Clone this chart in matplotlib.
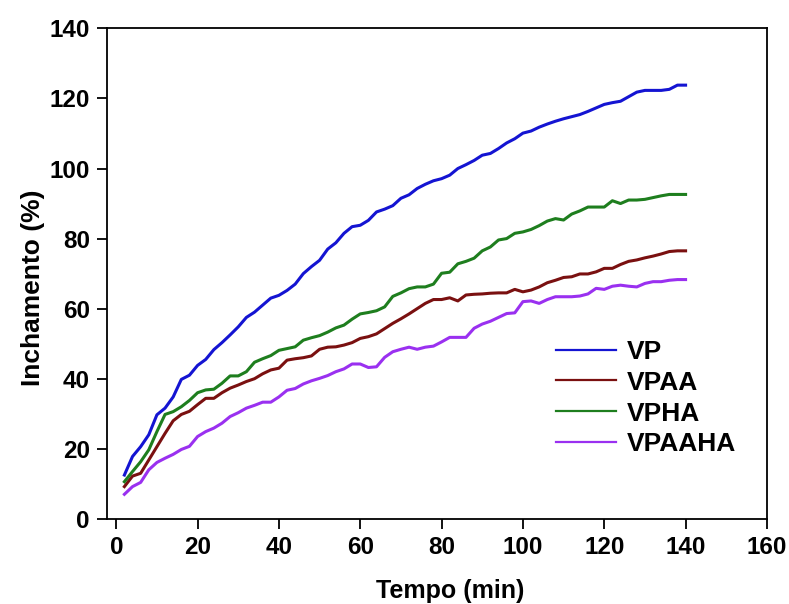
import matplotlib
matplotlib.use('Agg')
import matplotlib.pyplot as plt

# tempo (min)
tempo = list(range(2, 141, 2))

# inchamento (%)
vp = [12.5, 17.8, 20.6, 24.0, 29.7, 31.6, 34.8, 39.8, 41.0, 43.8,
      45.5, 48.3, 50.3, 52.5, 54.8, 57.5, 59.0, 61.0, 63.0, 63.8,
      65.2, 67.0, 70.0, 72.0, 73.8, 77.0, 78.8, 81.5, 83.4, 83.8,
      85.2, 87.6, 88.4, 89.4, 91.5, 92.5, 94.3, 95.5, 96.5, 97.1,
      98.1, 100.0, 101.1, 102.3, 103.8, 104.3, 105.7, 107.3, 108.5, 110.1,
      110.7, 111.8, 112.7, 113.5, 114.2, 114.8, 115.4, 116.3, 117.3, 118.3,
      118.8, 119.2, 120.5, 121.8, 122.3, 122.3, 122.3, 122.6, 123.8, 123.8]

vpaa = [9.2, 12.2, 13.0, 16.8, 20.6, 24.4, 28.0, 29.8, 30.7, 32.6,
        34.4, 34.4, 36.0, 37.3, 38.2, 39.2, 40.0, 41.4, 42.5, 43.0,
        45.3, 45.7, 46.0, 46.5, 48.4, 49.0, 49.1, 49.6, 50.3, 51.5,
        52.0, 52.8, 54.3, 55.8, 57.1, 58.5, 60.0, 61.5, 62.6, 62.6,
        63.1, 62.2, 63.9, 64.1, 64.2, 64.4, 64.5, 64.5, 65.5, 64.8,
        65.3, 66.2, 67.4, 68.1, 68.9, 69.1, 69.9, 69.9, 70.5, 71.5,
        71.5, 72.6, 73.5, 73.9, 74.5, 75.0, 75.6, 76.3, 76.5, 76.5]

vpha = [10.6, 13.5, 16.3, 19.7, 24.9, 29.8, 30.6, 32.0, 33.8, 36.0,
        36.8, 37.0, 38.7, 40.8, 40.8, 42.0, 44.7, 45.7, 46.6, 48.1,
        48.6, 49.1, 51.0, 51.7, 52.3, 53.3, 54.5, 55.3, 57.0, 58.5,
        58.9, 59.4, 60.5, 63.5, 64.5, 65.7, 66.2, 66.2, 67.0, 70.1,
        70.4, 72.8, 73.5, 74.4, 76.5, 77.6, 79.6, 80.0, 81.5, 81.9,
        82.6, 83.7, 85.0, 85.7, 85.3, 87.0, 87.9, 89.0, 89.0, 89.0,
        90.8, 90.0, 91.0, 91.0, 91.2, 91.7, 92.2, 92.6, 92.6, 92.6]

vpaaha = [7.0, 9.2, 10.4, 14.0, 16.1, 17.3, 18.4, 19.8, 20.7, 23.5,
          24.9, 25.9, 27.3, 29.2, 30.3, 31.6, 32.4, 33.3, 33.3, 34.8,
          36.7, 37.2, 38.5, 39.4, 40.1, 40.9, 42.0, 42.8, 44.2, 44.2,
          43.2, 43.4, 46.1, 47.7, 48.4, 49.0, 48.4, 49.0, 49.3, 50.5,
          51.8, 51.8, 51.8, 54.4, 55.6, 56.4, 57.5, 58.6, 58.8, 62.0,
          62.2, 61.5, 62.6, 63.4, 63.4, 63.4, 63.6, 64.2, 65.8, 65.5,
          66.4, 66.7, 66.4, 66.2, 67.2, 67.7, 67.7, 68.1, 68.3, 68.3]

series = ['VP', 'VPAA', 'VPHA', 'VPAAHA']
cores = ['#1414d2', '#7a1010', '#1e7e1e', '#9a30f0']
xticks = [0, 20, 40, 60, 80, 100, 120, 140, 160]
yticks = [0, 20, 40, 60, 80, 100, 120, 140]

plt.rcParams['font.family'] = ['Liberation Sans', 'DejaVu Sans']
plt.rcParams['font.weight'] = 'bold'

fig = plt.figure(figsize=(7.89, 6.04), dpi=100)
ax = fig.add_axes([0.136, 0.141, 0.836, 0.812])

for nome, dados, cor in zip(series, [vp, vpaa, vpha, vpaaha], cores):
    ax.plot(tempo, dados, color=cor, linewidth=2.2, label=nome)

ax.set_xlim(-2.2, 160)
ax.set_ylim(0, 140)
ax.set_xticks(xticks)
ax.set_yticks(yticks)
ax.tick_params(direction='out', length=7.5, width=1.3, labelsize=17.5, pad=5)
for lab in ax.get_xticklabels() + ax.get_yticklabels():
    lab.set_fontweight('bold')
for s in ax.spines.values():
    s.set_linewidth(1.3)

ax.set_xlabel('Tempo (min)', fontsize=18, fontweight='bold')
ax.set_ylabel('Inchamento (%)', fontsize=19, fontweight='bold')
ax.xaxis.set_label_coords(0.52, -0.122)
ax.yaxis.set_label_coords(-0.094, 0.471)

leg = ax.legend(loc='upper left', bbox_to_anchor=(0.68, 0.365), frameon=False,
                fontsize=19, handlelength=2.27, handletextpad=0.42,
                labelspacing=0.26, borderpad=0, borderaxespad=0)
for l in leg.get_lines():
    l.set_linewidth(1.6)
for t in leg.get_texts():
    t.set_fontweight('bold')

fig.savefig('out.png', dpi=100)
